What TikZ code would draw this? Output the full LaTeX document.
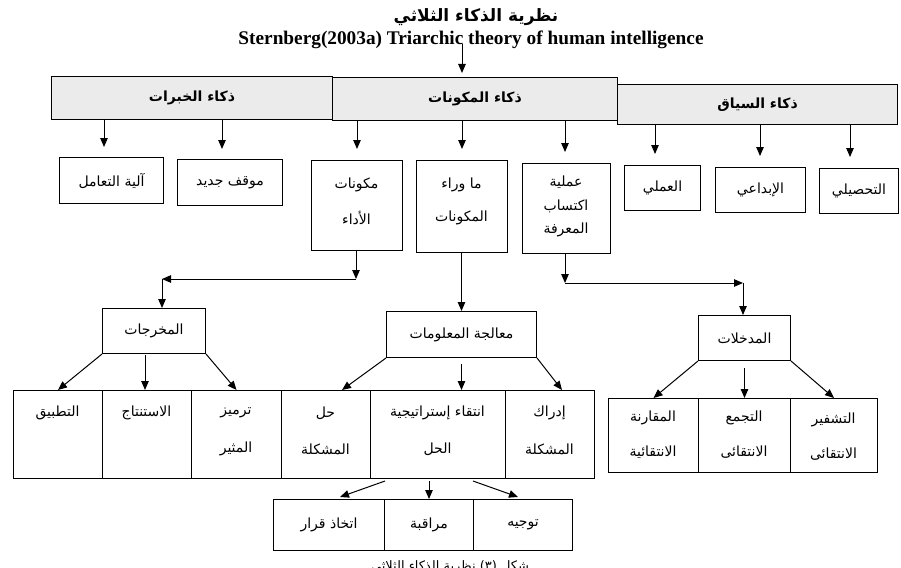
\documentclass[tikz,border=0pt]{standalone}
\usepackage{fontspec}
\setmainfont{Liberation Serif}
\newfontfamily\arabicfont[Script=Arabic]{DejaVu Sans}
\TeXXeTstate=1
\usetikzlibrary{arrows.meta,calc}
\newcommand{\AR}[1]{{\arabicfont\beginR #1\endR}}
\begin{document}
\begin{tikzpicture}[x=1pt,y=-1pt,
  box/.style={draw,line width=1pt,inner sep=0pt,anchor=north west},
  hdr/.style={box,fill=gray!16},
  lbl/.style={inner sep=0pt,font=\fontsize{14}{16}\selectfont},
  hlbl/.style={inner sep=0pt,font=\fontsize{14}{16}\selectfont\bfseries},
  arr/.style={-{Triangle[length=9pt,width=7.5pt]},line width=1pt}]
\clip (0,0) rectangle (901,567);
% titles
\node[inner sep=0pt,font=\fontsize{17}{19}\selectfont\bfseries] (tAr) at (476,17) {\AR{نظرية الذكاء الثلاثي}};
\node[inner sep=0pt,font=\fontsize{19.3}{21}\selectfont\bfseries] (tEn) at (471,40) {Sternberg(2003a) Triarchic theory of human intelligence};
\coordinate (tA) at (462,44);
\coordinate (tB) at (462,73);
\draw[arr] (tA) -- (tB);
% header bar
\node[hdr,minimum width=281pt,minimum height=43pt] (hdrL) at (51,76) {};
\node[hdr,minimum width=285pt,minimum height=43pt] (hdrM) at (332,77) {};
\node[hdr,minimum width=280pt,minimum height=40pt] (hdrR) at (617,84) {};
\node[hlbl] (hdrLt) at (hdrL.center) {\AR{ذكاء الخبرات}};
\node[hlbl] (hdrMt) at (hdrM.center) {\AR{ذكاء المكونات}};
\node[hlbl] (hdrRt) at (hdrR.center) {\AR{ذكاء السياق}};
% second row
\node[box,minimum width=104pt,minimum height=46pt] (s1) at (59,157) {};
\node[box,minimum width=105pt,minimum height=46pt] (s2) at (177,159) {};
\node[box,minimum width=91pt,minimum height=90pt] (s3) at (311,160) {};
\node[box,minimum width=91pt,minimum height=92pt] (s4) at (416,160) {};
\node[box,minimum width=88pt,minimum height=90pt] (s5) at (522,163) {};
\node[box,minimum width=76pt,minimum height=45pt] (s6) at (624,165) {};
\node[box,minimum width=90pt,minimum height=45pt] (s7) at (715,167) {};
\node[box,minimum width=79pt,minimum height=45pt] (s8) at (819,168) {};
\node[lbl] (s1t) at (s1.center) {\AR{آلية التعامل}};
\node[lbl] (s2t) at (s2.center) {\AR{موقف جديد}};
\node[lbl] (s3a) at (356.5,185) {\AR{مكونات}};
\node[lbl] (s3b) at (356.5,218) {\AR{الأداء}};
\node[lbl] (s4a) at (461.5,185) {\AR{ما وراء}};
\node[lbl] (s4b) at (461.5,218) {\AR{المكونات}};
\node[lbl] (s5a) at (566,182) {\AR{عملية}};
\node[lbl] (s5b) at (566,206) {\AR{اكتساب}};
\node[lbl] (s5c) at (566,230) {\AR{المعرفة}};
\node[lbl] (s6t) at (s6.center) {\AR{العملي}};
\node[lbl] (s7t) at (s7.center) {\AR{الإبداعي}};
\node[lbl] (s8t) at (s8.center) {\AR{التحصيلي}};
% header arrows
\coordinate (h1) at (104,147);
\coordinate (h2) at (222,149);
\coordinate (h3) at (357,149);
\coordinate (h4) at (462,149);
\coordinate (h5) at (565,152);
\coordinate (h6) at (655,154);
\coordinate (h7) at (760,156);
\coordinate (h8) at (850,157);
\draw[arr] (hdrL.south -| h1) -- (h1);
\draw[arr] (hdrL.south -| h2) -- (h2);
\draw[arr] (hdrM.south -| h3) -- (h3);
\draw[arr] (hdrM.south -| h4) -- (h4);
\draw[arr] (hdrM.south -| h5) -- (h5);
\draw[arr] (hdrR.south -| h6) -- (h6);
\draw[arr] (hdrR.south -| h7) -- (h7);
\draw[arr] (hdrR.south -| h8) -- (h8);
% middle row
\node[box,minimum width=103pt,minimum height=45pt] (out) at (102,308) {};
\node[box,minimum width=150pt,minimum height=46pt] (proc) at (386,311) {};
\node[box,minimum width=92pt,minimum height=45pt] (inp) at (698,315) {};
\node[lbl] (outt) at (out.center) {\AR{المخرجات}};
\node[lbl] (proct) at (proc.center) {\AR{معالجة المعلومات}};
\node[lbl] (inpt) at (inp.center) {\AR{المدخلات}};
\coordinate (c1) at (356,279);
\coordinate (c2) at (162,279);
\coordinate (c3) at (565,283);
\coordinate (c4) at (743,283);
\draw[arr] (s3.south -| c1) -- (c1);
\draw[arr] (c1) -- (c2);
\draw[arr] (c2) -- (c2 |- out.north);
\draw[arr] (s4.south -| proc.north) -- (proc.north);
\draw[arr] (s5.south -| c3) -- (c3);
\draw[arr] (c3) -- (c4);
\draw[arr] (c4) -- (c4 |- inp.north);
% bottom-left row
\node[box,minimum width=89pt,minimum height=88pt] (t1) at (13,390) {};
\node[box,minimum width=89pt,minimum height=88pt] (t2) at (102,390) {};
\node[box,minimum width=90pt,minimum height=88pt] (t3) at (191,390) {};
\node[box,minimum width=89pt,minimum height=88pt] (t4) at (281,390) {};
\node[box,minimum width=135pt,minimum height=88pt] (t5) at (370,390) {};
\node[box,minimum width=89pt,minimum height=88pt] (t6) at (505,390) {};
\node[lbl] (t1a) at (57.5,413) {\AR{التطبيق}};
\node[lbl] (t2a) at (146.5,413) {\AR{الاستنتاج}};
\node[lbl] (t3a) at (236,413) {\AR{ترميز}};
\node[lbl] (t3b) at (236,449) {\AR{المثير}};
\node[lbl] (t4a) at (325.5,413) {\AR{حل}};
\node[lbl] (t4b) at (325.5,449) {\AR{المشكلة}};
\node[lbl] (t5a) at (437.5,413) {\AR{انتقاء إستراتيجية}};
\node[lbl] (t5b) at (437.5,449) {\AR{الحل}};
\node[lbl] (t6a) at (549.5,413) {\AR{إدراك}};
\node[lbl] (t6b) at (549.5,449) {\AR{المشكلة}};
% bottom-right row
\node[box,minimum width=90pt,minimum height=74pt] (r1) at (608,398) {};
\node[box,minimum width=92pt,minimum height=74pt] (r2) at (698,398) {};
\node[box,minimum width=87pt,minimum height=74pt] (r3) at (790,398) {};
\node[lbl] (r1a) at (653,418) {\AR{المقارنة}};
\node[lbl] (r1b) at (653,452) {\AR{الانتقائية}};
\node[lbl] (r2a) at (744,418) {\AR{التجمع}};
\node[lbl] (r2b) at (744,452) {\AR{الانتقائى}};
\node[lbl] (r3a) at (833.5,420) {\AR{التشفير}};
\node[lbl] (r3b) at (833.5,454) {\AR{الانتقائى}};
% fan arrows
\coordinate (o2) at (145,355);
\draw[arr] (out.south west) -- (t1.north);
\draw[arr] (o2) -- (o2 |- t2.north);
\draw[arr] (out.south east) -- (t3.north);
\coordinate (p1) at (342,390);
\coordinate (p3) at (562,390);
\draw[arr] (proc.south west) -- (p1);
\draw[arr] ($(proc.south)+(0,6)$) -- (proc.south |- t5.north);
\draw[arr] (proc.south east) -- (p3);
\draw[arr] (inp.south west) -- (r1.north);
\draw[arr] ($(inp.south)+(0,7)$) -- (inp.south |- r2.north);
\draw[arr] (inp.south east) -- (r3.north);
% third row
\node[box,minimum width=111pt,minimum height=51pt] (u1) at (273,499) {};
\node[box,minimum width=89pt,minimum height=51pt] (u2) at (384,499) {};
\node[box,minimum width=99pt,minimum height=51pt] (u3) at (473,499) {};
\node[lbl] (u1t) at (u1.center) {\AR{اتخاذ قرار}};
\node[lbl] (u2t) at (u2.center) {\AR{مراقبة}};
\node[lbl] (u3t) at (u3.center) {\AR{توجيه}};
\coordinate (q1s) at (385,481);
\coordinate (q1e) at (340,497);
\coordinate (q2s) at (429,481);
\coordinate (q3s) at (473,481);
\coordinate (q3e) at (518,497);
\draw[arr] (q1s) -- (q1e);
\draw[arr] (q2s) -- (q2s |- u2.north);
\draw[arr] (q3s) -- (q3e);
% caption (cut off at the lower edge, as in the reference)
\node[inner sep=0pt,anchor=base,font=\fontsize{13}{15}\selectfont] (cap) at (450,570) {\AR{شكل (٣) نظرية الذكاء الثلاثي}};
\end{tikzpicture}
\end{document}
